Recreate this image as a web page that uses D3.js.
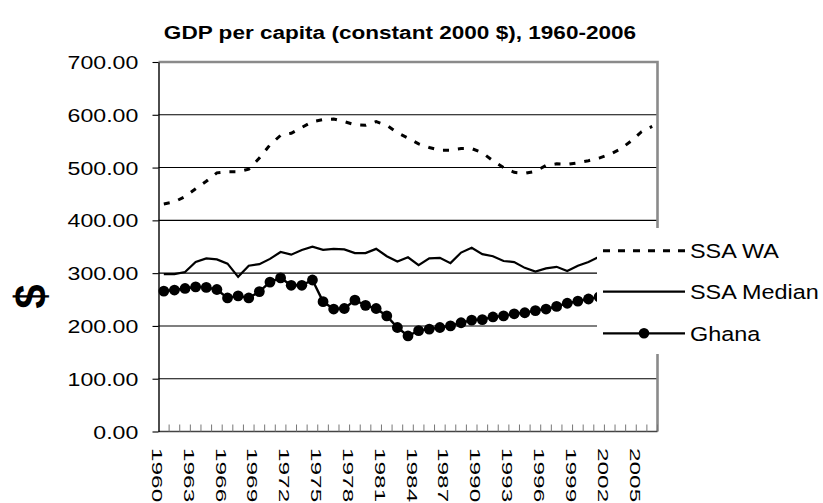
<!DOCTYPE html>
<html>
<head>
<meta charset="utf-8">
<script src="https://cdn.jsdelivr.net/npm/d3@7"></script>
<style>
  html, body { margin: 0; padding: 0; background: #fff; }
  svg { display: block; font-family: "Liberation Sans", Arial, sans-serif; }
</style>
</head>
<body>
<svg id="chart" width="823" height="503"></svg>
<script>
// ---------------- DATA ----------------
const years = [1960,1961,1962,1963,1964,1965,1966,1967,1968,1969,
               1970,1971,1972,1973,1974,1975,1976,1977,1978,1979,
               1980,1981,1982,1983,1984,1985,1986,1987,1988,1989,
               1990,1991,1992,1993,1994,1995,1996,1997,1998,1999,
               2000,2001,2002,2003,2004,2005,2006];
const ssaWA = [431,435,445,460,474,490,492,492,497,518,
               543,561,565,576,587,591,592,587,581,580,
               587,580,566,556,545,538,533,533,536,536,
               528,513,500,491,489,493,504,507,506,509,
               513,518,525,535,550,568,578];
const ssaMedian = [298,298,302,321,328,326,318,293,314,317,
                   327,340,335,344,350,344,346,345,338,338,
                   346,332,322,330,315,328,329,319,339,348,
                   336,332,323,321,310,303,309,312,304,314,
                   321,331,336,342,348,355,362];
const ghana = [266,268,271,274,273,269,253,257,253,265,
               283,291,277,277,287,246,232,233,249,239,
               233,219,197,181,191,194,197,200,206,211,
               212,217,219,223,225,229,232,237,243,247,
               251,255,259,265,271,278,286];
const yTicks = [0,100,200,300,400,500,600,700];
const xLabels = [1960,1963,1966,1969,1972,1975,1978,1981,1984,1987,1990,1993,1996,1999,2002,2005];
const seriesNames = ["SSA WA","SSA Median","Ghana"];
const title = "GDP per capita (constant 2000 $), 1960-2006";
const yTitle = "$";

// ---------------- LAYOUT ----------------
const plot = {left: 158.5, right: 657.5, top: 62, bottom: 431.5};
const svg = d3.select("#chart");

const x = d3.scaleBand().domain(years).range([plot.left, plot.right]).padding(0);
const y = d3.scaleLinear().domain([0, 700]).range([plot.bottom, plot.top]);
const cx = d => x(d) + x.bandwidth() / 2;

// gridlines
svg.append("g").selectAll("line")
  .data(yTicks.filter(v => v > 0 && v < 700))
  .join("line")
  .attr("x1", plot.left).attr("x2", plot.right)
  .attr("y1", d => y(d)).attr("y2", d => y(d))
  .attr("stroke", "#000").attr("stroke-width", 1.1);

// plot border (top + right), grey
svg.append("path")
  .attr("d", `M${plot.left},${plot.top}H${plot.right}V${plot.bottom}`)
  .attr("fill", "none").attr("stroke", "#8a8a8a").attr("stroke-width", 2.6);

// x axis line
svg.append("line")
  .attr("x1", plot.left).attr("x2", plot.right)
  .attr("y1", plot.bottom).attr("y2", plot.bottom)
  .attr("stroke", "#444").attr("stroke-width", 1.4);

// category boundary ticks (inside, upward)
const boundaries = years.map(d => x(d)).concat([x.range()[1]]);
svg.append("g").selectAll("line")
  .data(boundaries.slice(1))
  .join("line")
  .attr("x1", d => d).attr("x2", d => d)
  .attr("y1", plot.bottom).attr("y2", plot.bottom - 7)
  .attr("stroke", "#777").attr("stroke-width", 1);

// x labels, rotated
const xAxis = d3.axisBottom(x).tickValues(xLabels).tickSize(0).tickSizeOuter(0);
const gx = svg.append("g").attr("transform", `translate(0,${plot.bottom})`).call(xAxis);
gx.select(".domain").remove();
gx.selectAll(".tick text")
  .attr("y", null).attr("dy", null)
  .attr("text-anchor", "start")
  .attr("font-size", 14)
  .attr("fill", "#000")
  .attr("font-family", "Liberation Sans, Arial, sans-serif")
  .attr("transform", "translate(-12,16.5) rotate(90) scale(1.74,1)");

// y axis
const yAxis = d3.axisLeft(y).tickValues(yTicks).tickSize(6).tickSizeOuter(0)
  .tickFormat(d3.format(".2f"));
const gy = svg.append("g").attr("transform", `translate(${plot.left},0)`).call(yAxis);
gy.select(".domain").attr("stroke", "#000").attr("stroke-width", 1.4);
gy.selectAll(".tick line").attr("stroke", "#000").attr("stroke-width", 1.1);
gy.selectAll(".tick text")
  .attr("x", null).attr("dy", null)
  .attr("font-size", 18.5)
  .attr("fill", "#000")
  .attr("font-family", "Liberation Sans, Arial, sans-serif")
  .attr("text-anchor", "end")
  .attr("transform", "translate(-20.2,6.6) scale(1.25,1)");

// series lines
const line = d3.line().x((d, i) => cx(years[i])).y(d => y(d));

svg.append("path").datum(ssaWA)
  .attr("d", line).attr("fill", "none")
  .attr("stroke", "#000").attr("stroke-width", 3)
  .attr("stroke-dasharray", "6,9");

svg.append("path").datum(ssaMedian)
  .attr("d", line).attr("fill", "none")
  .attr("stroke", "#000").attr("stroke-width", 2.2);

svg.append("path").datum(ghana)
  .attr("d", line).attr("fill", "none")
  .attr("stroke", "#000").attr("stroke-width", 2.4);

svg.append("g").selectAll("circle")
  .data(ghana)
  .join("circle")
  .attr("cx", (d, i) => cx(years[i]))
  .attr("cy", d => y(d))
  .attr("r", 5.4)
  .attr("fill", "#000");

// legend
const lg = svg.append("g");
lg.append("rect").attr("x", 597).attr("y", 228).attr("width", 226).attr("height", 126).attr("fill", "#fff");
const legendY = [250.7, 291.7, 333.3];
const lItems = lg.selectAll("g.item").data(seriesNames).join("g").attr("class", "item");
lItems.append("line")
  .attr("x1", 603).attr("x2", 685)
  .attr("y1", (d, i) => legendY[i]).attr("y2", (d, i) => legendY[i])
  .attr("stroke", "#000")
  .attr("stroke-width", (d, i) => i === 0 ? 3 : 2.3)
  .attr("stroke-dasharray", (d, i) => i === 0 ? "7,8" : null);
lItems.filter((d, i) => i === 2).append("circle")
  .attr("cx", 644).attr("cy", legendY[2]).attr("r", 5.3).attr("fill", "#000");
lItems.append("text")
  .text(d => d)
  .attr("font-size", 19.5)
  .attr("fill", "#000")
  .attr("transform", (d, i) => `translate(690,${legendY[i] + 7.5}) scale(1.2,1)`);

// title
svg.append("text")
  .text(title)
  .attr("font-size", 18.5).attr("font-weight", "bold")
  .attr("text-anchor", "middle")
  .attr("transform", "translate(400,39) scale(1.22,1)");

// y title
svg.append("text")
  .text(yTitle)
  .attr("font-size", 44).attr("font-weight", "bold")
  .attr("text-anchor", "middle")
  .attr("transform", "translate(46,296.5) rotate(-90)");
</script>
</body>
</html>
